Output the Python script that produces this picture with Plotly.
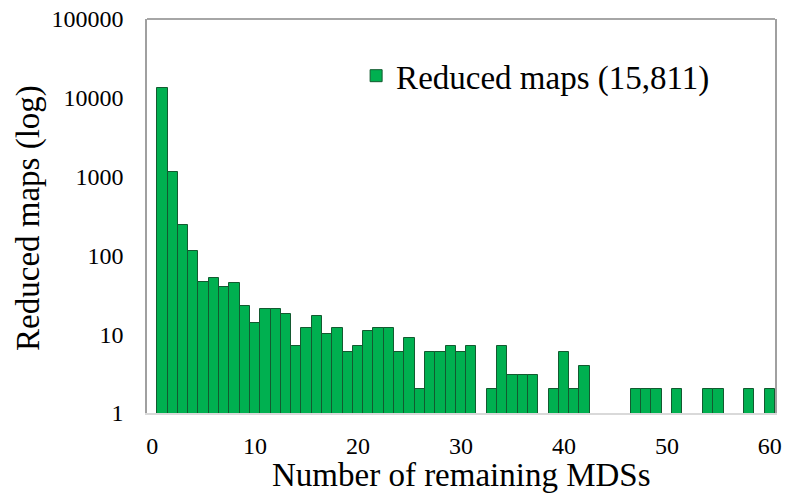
import plotly.graph_objects as go

# Number of remaining MDSs (categories 0..60)
mds_counts = list(range(0, 61))

# Reduced maps per count (0 = no bar)
reduced_maps = [
    0,                                   # 0
    13300, 1158, 240, 113, 46,           # 1-5
    51, 40, 45, 23, 14,                  # 6-10
    21, 21, 18, 7, 12,                   # 11-15
    17, 10, 12, 6, 7,                    # 16-20
    11, 12, 12, 6, 9,                    # 21-25
    2, 6, 6, 7, 6,                       # 26-30
    7, 0, 2, 7, 3,                       # 31-35
    3, 3, 0, 2, 6,                       # 36-40
    2, 4, 0, 0, 0,                       # 41-45
    0, 2, 2, 2, 0,                       # 46-50
    2, 0, 0, 2, 2,                       # 51-55
    0, 0, 2, 0, 2,                       # 56-60
]

y_tick_vals = [1, 10, 100, 1000, 10000, 100000]
y_tick_text = ["1", "10", "100", "1000", "10000", "100000"]
x_tick_vals = [0, 10, 20, 30, 40, 50, 60]
x_tick_text = ["0", "10", "20", "30", "40", "50", "60"]

series_name = "Reduced maps (15,811)"
x_title = "Number of remaining MDSs"
y_title = "Reduced maps (log)"

xs = [x for x, v in zip(mds_counts, reduced_maps) if v > 0]
ys = [v for v in reduced_maps if v > 0]

FONT = "Liberation Serif, Times New Roman, serif"

fig = go.Figure()
fig.add_trace(go.Bar(
    x=xs, y=ys, width=1.0, name=series_name,
    marker=dict(color="#00b050", line=dict(color="#135a30", width=1)),
    showlegend=True,
))

fig.update_layout(
    width=787, height=504,
    margin=dict(l=147, r=12, t=19, b=91, autoexpand=False),
    paper_bgcolor="white", plot_bgcolor="white",
    font=dict(family=FONT, color="black", size=24),
    bargap=0,
    showlegend=True,
    legend=dict(
        x=0.333, xanchor="left", y=0.856, yanchor="middle",
        font=dict(family=FONT, size=33, color="black"),
        bgcolor="rgba(0,0,0,0)",
    ),
    xaxis=dict(
        range=[-0.5, 60.5], automargin=False,
        tickmode="array", tickvals=x_tick_vals, ticktext=x_tick_text,
        tickfont=dict(family=FONT, size=24, color="black"),
        showgrid=False, zeroline=False,
        showline=True, linecolor="#d9d9d9", linewidth=2,
        ticks="", ticklabelstandoff=10,
    ),
    yaxis=dict(
        type="log", range=[0, 5], automargin=False,
        tickmode="array", tickvals=y_tick_vals, ticktext=y_tick_text,
        tickfont=dict(family=FONT, size=24, color="black"),
        showgrid=False, zeroline=False,
        showline=True, linecolor="#a0a0a0", linewidth=1.5, mirror=True,
        ticks="", ticklabelstandoff=17,
    ),
    shapes=[dict(type="line", xref="paper", yref="paper", x0=0, x1=1, y0=1, y1=1,
                 line=dict(color="#888888", width=1.5))],
    annotations=[
        dict(text=x_title, xref="paper", yref="paper", x=0.5, y=-0.157,
             xanchor="center", yanchor="middle", showarrow=False,
             font=dict(family=FONT, size=33, color="black")),
        dict(text=y_title, xref="paper", yref="paper", x=-0.188, y=0.495,
             xanchor="center", yanchor="middle", showarrow=False, textangle=-90,
             font=dict(family=FONT, size=33, color="black")),
    ],
)

fig.write_html(
    "out.html",
    config={"displayModeBar": False},
    post_script="document.body.style.margin='0';document.body.style.overflow='hidden';",
)
